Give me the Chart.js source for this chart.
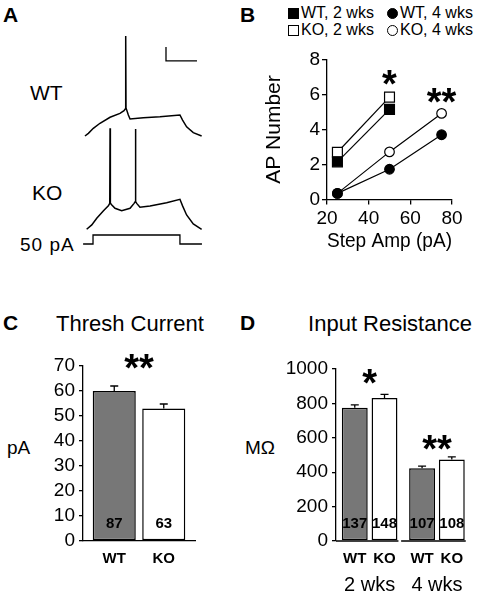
<!DOCTYPE html>
<html lang="en">
<head>
<meta charset="UTF-8">
<title>Firing, threshold and input resistance</title>
<script src="https://cdn.jsdelivr.net/npm/chart.js"></script>
<style>
  body { margin: 0; background: #fff; }
  #fig { position: relative; width: 496px; height: 598px; overflow: hidden;
         font-family: 'Liberation Sans', Arial, sans-serif; color: #000; }
  #fig canvas, .t { position: absolute; }
  .t { white-space: nowrap; line-height: 1; }
  .panel { font-weight: bold; font-size: 21px; }
  .lg { font-size: 16px; line-height: 16px; }
  .mk { display: inline-block; width: 11px; height: 11px; box-sizing: border-box;
        border: 1.3px solid #000; margin-right: 2px; vertical-align: -1px; }
  .fill { background: #000; }
  .round { border-radius: 50%; }
</style>
</head>
<body>
<div id="fig">
  <div class="t panel" style="left:3px;top:4px">A</div>
  <div class="t" style="left:30px;top:82px;font-size:21px">WT</div>
  <div class="t" style="left:32px;top:182px;font-size:21px">KO</div>
  <div class="t" style="left:20px;top:235px;font-size:19px;letter-spacing:1px">50 pA</div>
  <canvas id="traces" width="130" height="220" style="left:80px;top:30px"></canvas>

  <div class="t panel" style="left:240px;top:4px">B</div>
  <div class="t lg" style="left:288px;top:5px"><span class="mk fill"></span>WT, 2 wks</div>
  <div class="t lg" style="left:387px;top:5px"><span class="mk fill round"></span>WT, 4 wks</div>
  <div class="t lg" style="left:288px;top:22px"><span class="mk"></span>KO, 2 wks</div>
  <div class="t lg" style="left:387px;top:22px"><span class="mk round"></span>KO, 4 wks</div>
  <canvas id="apChart" width="240" height="215" style="left:240px;top:40px"></canvas>

  <div class="t panel" style="left:3px;top:312px">C</div>
  <div class="t" style="left:30px;top:313px;width:200px;text-align:center;font-size:22px">Thresh Current</div>
  <div class="t" style="left:7px;top:438px;font-size:19px">pA</div>
  <canvas id="threshChart" width="240" height="258" style="left:0px;top:340px"></canvas>

  <div class="t panel" style="left:240px;top:312px">D</div>
  <div class="t" style="left:290px;top:313px;width:200px;text-align:center;font-size:22px">Input Resistance</div>
  <div class="t" style="left:245px;top:438px;font-size:19px">MΩ</div>
  <canvas id="rinChart" width="248" height="258" style="left:248px;top:340px"></canvas>
</div>

<script>
// A: example traces, time in ms from step onset, membrane potential in mV
const wtTraceT = [-52, -30, 2, 45, 110, 174, 200, 209, 211, 213, 228, 239, 325, 432, 561, 578, 604, 647, 701];
const wtTraceV = [-70, -68.1, -64.5, -60.9, -56.6, -53.8, -51.9, -50.5, 1.4, -50, -55, -57.9, -56.9, -56.2, -55, -58.6, -63.4, -67.6, -70];
const koTraceT = [-41, -8, 24, 66, 99, 108, 110, 112, 120, 142, 185, 239, 265, 272, 274, 276, 282, 303, 368, 475, 561, 578, 604, 647, 701];
const koTraceV = [-70, -66.9, -62.1, -56.9, -53.3, -51.4, 2.2, -51.4, -52.5, -55, -56.7, -55, -51.5, -50.3, 1.6, -50.3, -51.5, -54.3, -53.3, -51, -48.6, -53.3, -59.8, -66.2, -70];
const stepT = [-64, 0, 0, 561, 561, 703];
const stepI = [0, 0, 50, 50, 0, 0];
const scaleBarT = [471, 471, 671];   // 10 mV / 200 ms
const scaleBarV = [-6.4, -16.4, -16.4];

// B: AP number vs step amplitude
const stepAmps = [25, 50, 75];
const apWT2 = [2.15, 5.15];
const apKO2 = [2.7, 5.85];
const apWT4 = [0.35, 1.73, 3.7];
const apKO4 = [0.35, 2.72, 4.92];

// C: threshold current
const threshMean = [60, 53];
const threshSem = [2, 1.8];
const threshN = [87, 63];

// D: input resistance
const ageLabels = ['2 wks', '4 wks'];
const rinWT = [775, 423];
const rinKO = [832, 474];
const rinWTSem = [17, 12];
const rinKOSem = [20, 15];
const rinWTN = [137, 107];
const rinKON = [148, 108];

const FONT = "'Liberation Sans', Arial, sans-serif";
Chart.defaults.font.family = FONT;
Chart.defaults.color = '#000';
Chart.defaults.animation = false;
Chart.defaults.plugins.legend.display = false;
Chart.defaults.plugins.tooltip.enabled = false;

const pts = (xs, ys) => ys.map((y, i) => ({x: xs[i], y: y}));

// asterisks placed in data units
function stars(marks) {
  return {
    id: 'stars',
    afterDatasetsDraw(chart) {
      const {ctx, scales: {x, y}} = chart;
      ctx.save();
      ctx.font = 'bold 38px ' + FONT;
      ctx.fillStyle = '#000';
      ctx.textAlign = 'center';
      ctx.textBaseline = 'alphabetic';
      marks.forEach(m => ctx.fillText(m.text, x.getPixelForValue(m.x), y.getPixelForValue(m.y) + 21));
      ctx.restore();
    }
  };
}

// SEM caps, n inside bars, group names under bars
const barExtras = {
  id: 'barExtras',
  afterDatasetsDraw(chart) {
    const {ctx, chartArea, scales: {y}} = chart;
    ctx.save();
    ctx.strokeStyle = '#000';
    ctx.fillStyle = '#000';
    ctx.lineWidth = 1.3;
    ctx.textAlign = 'center';
    ctx.textBaseline = 'middle';
    ctx.font = 'bold 15px ' + FONT;
    chart.data.datasets.forEach((ds, di) => {
      chart.getDatasetMeta(di).data.forEach((bar, i) => {
        const top = y.getPixelForValue(ds.data[i] + ds.sem[i]);
        ctx.beginPath();
        ctx.moveTo(bar.x, bar.y);
        ctx.lineTo(bar.x, top);
        ctx.moveTo(bar.x - 4, top);
        ctx.lineTo(bar.x + 4, top);
        ctx.stroke();
        ctx.fillText(ds.n[i], bar.x, chartArea.bottom - 17);
        ctx.fillText(ds.label, bar.x, chartArea.bottom + 18);
      });
    });
    ctx.restore();
  }
};

// separate baseline under each age group
const splitBase = {
  id: 'splitBase',
  afterDatasetsDraw(chart) {
    const {ctx, chartArea} = chart;
    const metas = chart.data.datasets.map((d, i) => chart.getDatasetMeta(i));
    ctx.save();
    ctx.strokeStyle = '#000';
    ctx.lineWidth = 1.3;
    chart.data.labels.forEach((l, i) => {
      const bars = metas.map(m => m.data[i]);
      const left = Math.max(chartArea.left, bars[0].x - bars[0].width / 2 - 8);
      const right = bars[bars.length - 1].x + bars[bars.length - 1].width / 2 + 1;
      ctx.beginPath();
      ctx.moveTo(left, chartArea.bottom);
      ctx.lineTo(right, chartArea.bottom);
      ctx.stroke();
    });
    ctx.restore();
  }
};

// A
const hidden = (min, max) => ({type: 'linear', display: false, min: min, max: max});
new Chart(document.getElementById('traces'), {
  type: 'scatter',
  data: {
    datasets: [
      {data: pts(wtTraceT, wtTraceV), yAxisID: 'yWT'},
      {data: pts(koTraceT, koTraceV), yAxisID: 'yKO'},
      {data: pts(stepT, stepI), yAxisID: 'yI', borderWidth: 1.3},
      {data: pts(scaleBarT, scaleBarV), yAxisID: 'yWT', borderWidth: 1.3}
    ].map(d => Object.assign({showLine: true, pointRadius: 0, borderColor: '#000', borderWidth: 1.5, tension: 0}, d))
  },
  options: {
    responsive: false,
    layout: {padding: 0, autoPadding: false},
    scales: {
      x: hidden(-84, 755),
      yWT: hidden(-151.4, 5.7),
      yKO: hidden(-84.8, 72.3),
      yI: hidden(-33.3, 1189)
    }
  }
});

// B
const sq = (data, fill) => ({data: data, pointStyle: 'rect', pointRadius: 7, pointBackgroundColor: fill,
  pointBorderColor: '#000', pointBorderWidth: 1.2, borderColor: '#000', borderWidth: 1.2, showLine: true});
const ci = (data, fill) => Object.assign(sq(data, fill), {pointStyle: 'circle', pointRadius: 4.8});
new Chart(document.getElementById('apChart'), {
  type: 'scatter',
  data: {
    datasets: [
      Object.assign(sq(pts(stepAmps, apWT2), '#000'), {label: 'WT, 2 wks'}),
      Object.assign(sq(pts(stepAmps, apKO2), '#fff'), {label: 'KO, 2 wks'}),
      Object.assign(ci(pts(stepAmps, apWT4), '#000'), {label: 'WT, 4 wks'}),
      Object.assign(ci(pts(stepAmps, apKO4), '#fff'), {label: 'KO, 4 wks'})
    ]
  },
  options: {
    responsive: false,
    layout: {padding: {top: 19.5, right: 28, left: 0, bottom: 0}, autoPadding: false},
    scales: {
      x: {
        type: 'linear', min: 20, max: 80,
        afterFit: s => { s.height = 55.5; },
        ticks: {stepSize: 20, font: {size: 19}, padding: 3, autoSkip: false},
        grid: {drawOnChartArea: false, tickLength: 5, color: '#000', lineWidth: 1.3},
        border: {color: '#000', width: 1.3},
        title: {display: true, text: 'Step Amp (pA)', font: {size: 21}, padding: {top: 0, bottom: 1}}
      },
      y: {
        min: 0, max: 8,
        afterFit: s => { s.width = 87; },
        ticks: {stepSize: 2, font: {size: 19}, padding: 2, autoSkip: false},
        grid: {drawOnChartArea: false, tickLength: 5, color: '#000', lineWidth: 1.3},
        border: {color: '#000', width: 1.3},
        title: {display: true, text: 'AP Number', font: {size: 21}, padding: {top: 22, bottom: 0}}
      }
    }
  },
  plugins: [stars([{x: 50, y: 7.06, text: '*'}, {x: 75, y: 6.03, text: '**'}])]
});

const barSet = (label, data, sem, n, fill) => ({label: label, data: data, sem: sem, n: n,
  backgroundColor: fill, borderColor: '#000', borderWidth: 1.5, borderSkipped: false,
  categoryPercentage: 0.884, barPercentage: 0.87});
const yBar = (max, step, width) => ({
  min: 0, max: max,
  afterFit: s => { s.width = width; },
  ticks: {stepSize: step, font: {size: 19}, padding: 4, autoSkip: false, callback: v => String(v)},
  grid: {drawOnChartArea: false, tickLength: 4, color: '#000', lineWidth: 1.3},
  border: {color: '#000', width: 1.3}
});

// C
new Chart(document.getElementById('threshChart'), {
  type: 'bar',
  data: {
    labels: [''],
    datasets: [
      barSet('WT', [threshMean[0]], [threshSem[0]], [threshN[0]], '#777777'),
      barSet('KO', [threshMean[1]], [threshSem[1]], [threshN[1]], '#ffffff')
    ]
  },
  options: {
    responsive: false,
    layout: {padding: {top: 26, right: 45, left: 0, bottom: 0}, autoPadding: false},
    scales: {
      x: {
        afterFit: s => { s.height = 57; },
        ticks: {display: false},
        grid: {display: false},
        border: {color: '#000', width: 1.3}
      },
      y: yBar(70, 10, 83)
    }
  },
  plugins: [barExtras, stars([{x: 0, y: 72.4, text: '**'}])]
});

// D
new Chart(document.getElementById('rinChart'), {
  type: 'bar',
  data: {
    labels: ageLabels,
    datasets: [
      barSet('WT', rinWT, rinWTSem, rinWTN, '#777777'),
      barSet('KO', rinKO, rinKOSem, rinKON, '#ffffff')
    ]
  },
  options: {
    responsive: false,
    layout: {padding: {top: 29, right: 6, left: 0, bottom: 0}, autoPadding: false},
    scales: {
      x: {
        afterFit: s => { s.height = 57; },
        ticks: {font: {size: 20}, padding: 32},
        grid: {display: false, drawTicks: false},
        border: {display: false}
      },
      y: yBar(1000, 200, 88)
    }
  },
  plugins: [barExtras, splitBase, stars([{x: 0, y: 968, text: '*'}, {x: 1, y: 583, text: '**'}])]
});
</script>
</body>
</html>
